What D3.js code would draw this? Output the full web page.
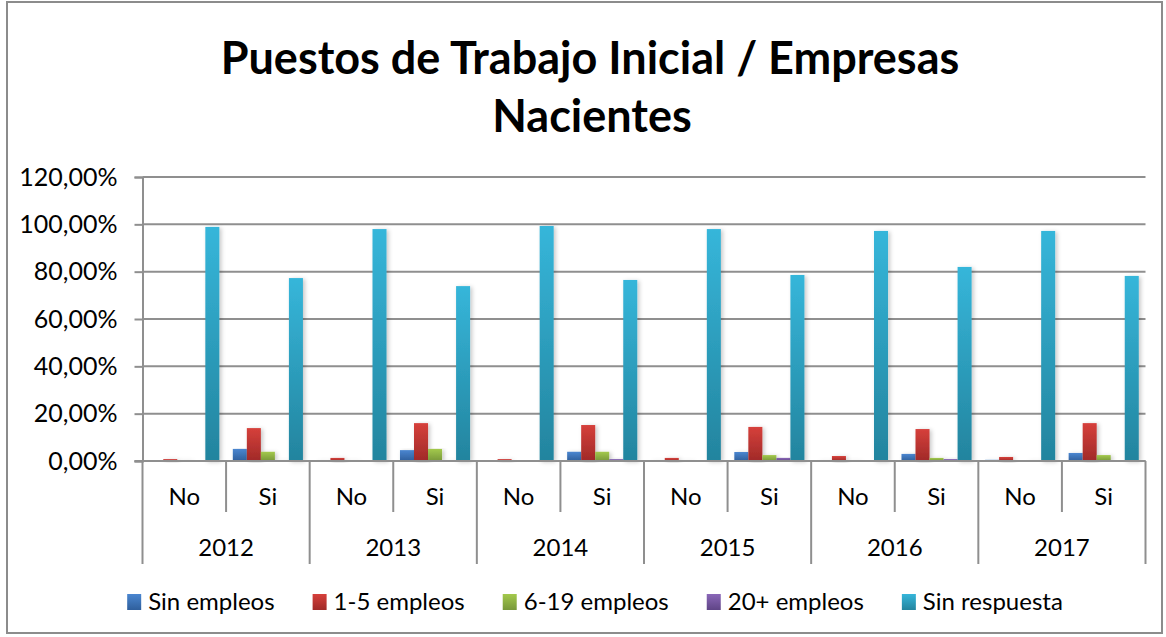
<!DOCTYPE html>
<html>
<head>
<meta charset="utf-8">
<script src="https://cdn.jsdelivr.net/npm/d3@7"></script>
<style>
body { margin: 0; background: #fff; }
svg { font-family: Lato, "Open Sans", sans-serif; }
</style>
</head>
<body>
<div id="chart"></div>
<script>
// Data (percent)
const years = ["2012", "2013", "2014", "2015", "2016", "2017"];
const answers = ["No", "Si"];
const seriesNames = ["Sin empleos", "1-5 empleos", "6-19 empleos", "20+ empleos", "Sin respuesta"];
const sinEmpleos   = [0.0, 5.1, 0.3, 4.6, 0.0, 3.9, 0.3, 3.8, 0.3, 3.0, 0.5, 3.4];
const unoCinco     = [0.8, 13.9, 1.3, 16.0, 0.8, 15.2, 1.3, 14.4, 2.1, 13.5, 1.7, 16.0];
const seisDiecinueve = [0.4, 3.9, 0.3, 5.1, 0.0, 3.9, 0.3, 2.5, 0.3, 1.3, 0.0, 2.5];
const veintePlus   = [0.0, 0.3, 0.0, 0.3, 0.0, 0.8, 0.0, 1.3, 0.0, 0.8, 0.3, 0.0];
const sinRespuesta = [98.9, 77.3, 98.0, 73.9, 99.3, 76.5, 98.0, 78.6, 97.2, 82.0, 97.2, 78.2];
const yTicks = [0, 20, 40, 60, 80, 100, 120];

const seriesValues = [sinEmpleos, unoCinco, seisDiecinueve, veintePlus, sinRespuesta];
const colors = [
  ["#4a86d0", "#2f5f9c"],
  ["#d6403b", "#a02a28"],
  ["#a3c94c", "#78983a"],
  ["#8a67b8", "#5f4586"],
  ["#36b6da", "#23849e"]
];

// Dimensions
const W = 1166, H = 637;
const plot = { left: 142.5, right: 1145.5, top: 177, bottom: 461 };

const svg = d3.select("#chart")
  .append("svg")
  .attr("width", W)
  .attr("height", H);

const defs = svg.append("defs");
colors.forEach((c, i) => {
  const g = defs.append("linearGradient")
    .attr("id", "grad" + i)
    .attr("x1", 0).attr("y1", 0).attr("x2", 0).attr("y2", 1);
  g.append("stop").attr("offset", "0%").attr("stop-color", c[0]);
  g.append("stop").attr("offset", "100%").attr("stop-color", c[1]);
});
const shadow = defs.append("filter").attr("id", "shadow")
  .attr("x", "-50%").attr("y", "-5%").attr("width", "200%").attr("height", "110%");
shadow.append("feDropShadow")
  .attr("dx", 2).attr("dy", 1).attr("stdDeviation", 2)
  .attr("flood-color", "#000").attr("flood-opacity", 0.22);

// Outer frame
svg.append("rect")
  .attr("x", 7).attr("y", 2)
  .attr("width", 1155).attr("height", 631)
  .attr("fill", "none")
  .attr("stroke", "#8c8c8c")
  .attr("stroke-width", 2);

// Title
const title = svg.append("text")
  .attr("text-anchor", "middle")
  .attr("font-weight", "bold")
  .attr("font-size", 45)
  .attr("fill", "#000");
title.append("tspan").attr("x", 590).attr("y", 74).text("Puestos de Trabajo Inicial / Empresas");
title.append("tspan").attr("x", 592).attr("y", 132).text("Nacientes");

// Categories: year + answer
const cats = [];
years.forEach(y => answers.forEach(a => cats.push(y + "|" + a)));

const x0 = d3.scaleBand()
  .domain(cats)
  .range([plot.left, plot.right])
  .paddingInner(0);

const x1 = d3.scaleBand()
  .domain(d3.range(seriesNames.length))
  .range([0, x0.bandwidth()])
  .paddingInner(0)
  .paddingOuter(0.48);

const y = d3.scaleLinear()
  .domain([0, 120])
  .range([plot.bottom, plot.top]);

const fmt = d3.formatLocale({ decimal: ",", thousands: ".", grouping: [3], currency: ["", "€"] })
  .format(".2f");

// Gridlines
svg.append("g")
  .selectAll("line")
  .data(yTicks)
  .join("line")
  .attr("x1", plot.left).attr("x2", plot.right)
  .attr("y1", d => y(d)).attr("y2", d => y(d))
  .attr("stroke", "#8f8f8f")
  .attr("stroke-width", 2);

// Y axis
const yAxis = svg.append("g")
  .attr("transform", `translate(${plot.left},0)`)
  .call(d3.axisLeft(y).tickValues(yTicks).tickSize(8).tickPadding(17)
    .tickFormat(d => fmt(d) + "%"));
yAxis.select(".domain").attr("stroke", "#8f8f8f").attr("stroke-width", 2);
yAxis.selectAll(".tick line").attr("stroke", "#8f8f8f").attr("stroke-width", 2);
yAxis.selectAll(".tick text")
  .attr("font-family", "Lato, 'Open Sans', sans-serif")
  .attr("font-size", 25)
  .attr("fill", "#000");

// Bars
const groups = svg.append("g")
  .selectAll("g")
  .data(seriesValues)
  .join("g")
  .attr("fill", (d, i) => `url(#grad${i})`)
  .attr("filter", "url(#shadow)");

groups.selectAll("rect")
  .data((vals, si) => vals.map((v, ci) => ({ si, cat: cats[ci], v })))
  .join("rect")
  .attr("x", d => x0(d.cat) + x1(d.si))
  .attr("width", x1.bandwidth())
  .attr("y", d => y(d.v))
  .attr("height", d => y(0) - y(d.v));

// Category axis
const xAxis = svg.append("g").attr("stroke", "#8f8f8f").attr("stroke-width", 2);
xAxis.append("line")
  .attr("x1", plot.left - 8).attr("x2", plot.right)
  .attr("y1", plot.bottom).attr("y2", plot.bottom);

// Separators between No / Si
xAxis.selectAll(".inner")
  .data(cats.filter(c => c.endsWith("|Si")))
  .join("line")
  .attr("class", "inner")
  .attr("x1", d => x0(d)).attr("x2", d => x0(d))
  .attr("y1", plot.bottom).attr("y2", 512);

// Separators between years
const yearEdges = years.map(yr => x0(yr + "|No")).concat([plot.right]);
xAxis.selectAll(".outer")
  .data(yearEdges)
  .join("line")
  .attr("class", "outer")
  .attr("x1", d => d).attr("x2", d => d)
  .attr("y1", plot.bottom).attr("y2", 564);

svg.append("g")
  .selectAll("text")
  .data(cats)
  .join("text")
  .attr("x", d => x0(d) + x0.bandwidth() / 2)
  .attr("y", 505)
  .attr("text-anchor", "middle")
  .attr("font-size", 24)
  .text(d => d.split("|")[1]);

svg.append("g")
  .selectAll("text")
  .data(years)
  .join("text")
  .attr("x", d => x0(d + "|No") + x0.bandwidth())
  .attr("y", 556)
  .attr("text-anchor", "middle")
  .attr("font-size", 24)
  .text(d => d);

// Legend
const legend = svg.append("g");
const items = legend.selectAll("g")
  .data(seriesNames)
  .join("g");
items.append("rect")
  .attr("y", 594)
  .attr("width", 14)
  .attr("height", 16)
  .attr("fill", (d, i) => `url(#grad${i})`);
items.append("text")
  .attr("x", 21)
  .attr("y", 610)
  .attr("font-size", 24)
  .text(d => d);

let pos = 0;
items.each(function() {
  const w = d3.select(this).select("text").node().getComputedTextLength();
  d3.select(this).attr("transform", `translate(${pos},0)`);
  pos += 21 + w + 38;
});
const legendWidth = pos - 38;
legend.attr("transform", `translate(${595 - legendWidth / 2},0)`);
</script>
</body>
</html>
